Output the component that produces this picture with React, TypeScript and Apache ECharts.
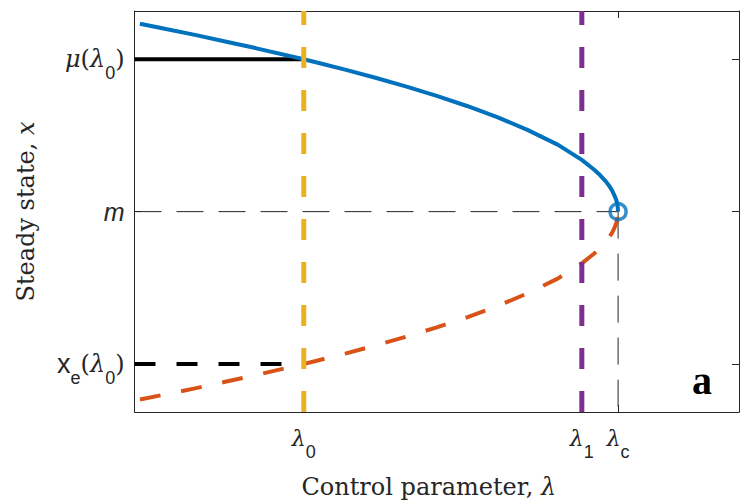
import React, { useEffect, useRef } from "react";
import * as echarts from "echarts";

// Parameter values (x axis)
const L0 = 2.8;
const L1 = 7.4;
const LC = 8.0;
const X_MIN = 0;
const X_MAX = 10;

// Steady-state levels (y axis)
const MU0 = 7;
const M = 4;
const XE0 = 1;
const Y_MIN = 0.055;
const Y_MAX = 7.95;

// Branches
const lambdaVals = [0.09, 0.5, 1, 1.5, 2, 2.8, 3, 3.5, 4, 4.5, 5, 5.5, 6, 6.5, 7, 7.4, 7.6, 7.7, 7.8, 7.85, 7.9, 7.95, 7.97, 7.99, 8.0];
const stableVals = [7.7, 7.6, 7.48, 7.35, 7.22, 7.0, 6.94, 6.79, 6.63, 6.46, 6.28, 6.08, 5.86, 5.61, 5.32, 5.02, 4.83, 4.72, 4.59, 4.51, 4.42, 4.29, 4.23, 4.13, 4.0];
const unstableVals = [0.3, 0.4, 0.52, 0.65, 0.78, 1.0, 1.06, 1.21, 1.37, 1.54, 1.72, 1.92, 2.14, 2.39, 2.68, 2.98, 3.17, 3.28, 3.41, 3.49, 3.58, 3.71, 3.77, 3.87, 4.0];

const xTickVals = [L0, L1, LC];
const xTickLabels = ["{l|λ}{s|0}", "{l|λ}{s|1}", "{l|λ}{s|c}"];
const yTickVals = [XE0, M, MU0];
const yTickLabels = ["{x|x}{s|e}{p|(}{l|λ}{s|0}{p|)}", "{m|m}", "{l|μ}{p|(}{l|λ}{s|0}{p|)}"];

const BLUE = "#0072BD";
const RED = "#D95319";
const YELLOW = "#EDB120";
const PURPLE = "#7E2F8E";
const AXIS = "#262626";

const SERIF = "'DejaVu Serif', 'Liberation Serif', serif";
const SANS = "'Liberation Sans', Arial, sans-serif";

const makeRich = (lh: number, main: number) => ({
  l: { fontFamily: SERIF, fontStyle: "italic", fontSize: main, color: AXIS, lineHeight: lh, verticalAlign: "middle" },
  p: { fontFamily: SERIF, fontSize: main, color: AXIS, lineHeight: lh, verticalAlign: "middle" },
  s: { fontFamily: SANS, fontSize: 18, color: AXIS, lineHeight: 18, verticalAlign: "bottom" },
  x: { fontFamily: SANS, fontSize: 27, color: AXIS, lineHeight: lh, verticalAlign: "middle" },
  m: { fontFamily: SANS, fontStyle: "italic", fontSize: 25, color: AXIS, lineHeight: lh, verticalAlign: "middle" },
});

export default function App() {
  const ref = useRef<HTMLDivElement>(null);
  useEffect(() => {
    if (!ref.current) return;
    const chart = echarts.init(ref.current, null, { renderer: "svg" });
    const pairs = (xs: number[], ys: number[]) => xs.map((x, i) => [x, ys[i]]);
    const lineBase = { type: "line", showSymbol: false, symbol: "none", silent: true, animation: false };
    const titleRich = {
      t: { fontFamily: SERIF, fontSize: 24, color: AXIS },
      i: { fontFamily: SERIF, fontStyle: "italic", fontSize: 24, color: AXIS },
    };
    chart.setOption({
      animation: false,
      backgroundColor: "#ffffff",
      grid: { left: 134.5, right: 1, top: 11, bottom: 92, containLabel: false },
      xAxis: [
        {
          type: "value",
          min: X_MIN,
          max: X_MAX,
          position: "bottom",
          name: "{t|Control parameter, }{i|λ}",
          nameLocation: "middle",
          nameGap: 63,
          nameTextStyle: { rich: titleRich, padding: [0, 16, 0, 0] },
          axisLine: { show: true, onZero: false, lineStyle: { color: AXIS, width: 1 } },
          axisTick: { show: true, inside: true, length: 7, customValues: xTickVals, lineStyle: { color: AXIS } },
          axisLabel: {
            show: true,
            margin: 3,
            customValues: xTickVals,
            formatter: (v: number) => {
              const i = xTickVals.findIndex((t) => Math.abs(t - v) < 1e-6);
              return i >= 0 ? xTickLabels[i] : "";
            },
            rich: makeRich(46, 22),
          },
          splitLine: { show: false },
        },
        {
          type: "value",
          min: X_MIN,
          max: X_MAX,
          position: "top",
          axisLine: { show: true, onZero: false, lineStyle: { color: AXIS, width: 1 } },
          axisTick: { show: true, inside: true, length: 7, customValues: xTickVals, lineStyle: { color: AXIS } },
          axisLabel: { show: false },
          splitLine: { show: false },
        },
      ],
      yAxis: [
        {
          type: "value",
          min: Y_MIN,
          max: Y_MAX,
          position: "left",
          name: "{t|Steady state, }{i|x}",
          nameLocation: "middle",
          nameGap: 97,
          nameRotate: 90,
          nameTextStyle: { rich: titleRich },
          axisLine: { show: true, onZero: false, lineStyle: { color: AXIS, width: 1 } },
          axisTick: { show: true, inside: true, length: 7, customValues: yTickVals, lineStyle: { color: AXIS } },
          axisLabel: {
            show: true,
            margin: 10,
            customValues: yTickVals,
            formatter: (v: number) => {
              const i = yTickVals.findIndex((t) => Math.abs(t - v) < 1e-6);
              return i >= 0 ? yTickLabels[i] : "";
            },
            rich: makeRich(46, 24),
          },
          splitLine: { show: false },
        },
        {
          type: "value",
          min: Y_MIN,
          max: Y_MAX,
          position: "right",
          axisLine: { show: true, onZero: false, lineStyle: { color: AXIS, width: 1 } },
          axisTick: { show: true, inside: true, length: 7, customValues: yTickVals, lineStyle: { color: AXIS } },
          axisLabel: { show: false },
          splitLine: { show: false },
        },
      ],
      graphic: [
        {
          type: "text",
          left: 692,
          top: 360,
          style: { text: "a", font: "bold 40px 'Liberation Serif', serif", fill: "#000" },
          silent: true,
        },
      ],
      series: [
        {
          ...lineBase,
          name: "m-h",
          data: [[X_MIN, M], [LC, M]],
          lineStyle: { color: AXIS, width: 1, type: [27, 15] },
          z: 1,
        },
        {
          ...lineBase,
          name: "m-v",
          data: [[LC, M], [LC, Y_MIN]],
          lineStyle: { color: AXIS, width: 1, type: [27, 15] },
          z: 1,
        },
        {
          ...lineBase,
          name: "mu0",
          data: [[X_MIN, MU0], [L0, MU0]],
          lineStyle: { color: "#000", width: 4, type: "solid" },
          z: 2,
        },
        {
          ...lineBase,
          name: "xe0",
          data: [[X_MIN, XE0], [L0, XE0]],
          lineStyle: { color: "#000", width: 4, type: [21, 21] },
          z: 2,
        },
        {
          ...lineBase,
          name: "unstable",
          data: pairs(lambdaVals, unstableVals),
          lineStyle: { color: RED, width: 4, type: [21, 21] },
          z: 3,
        },
        {
          ...lineBase,
          name: "stable",
          data: pairs(lambdaVals, stableVals),
          lineStyle: { color: BLUE, width: 4, type: "solid" },
          z: 4,
        },
        {
          type: "scatter",
          name: "fold",
          data: [[LC, M]],
          symbol: "circle",
          symbolSize: 16,
          itemStyle: { color: "rgba(255,255,255,0)", borderColor: BLUE, borderWidth: 3.5 },
          silent: true,
          z: 5,
        },
        {
          ...lineBase,
          name: "lambda0",
          data: [[L0, Y_MIN], [L0, Y_MAX]],
          lineStyle: { color: YELLOW, width: 5, type: [21, 22] },
          z: 6,
        },
        {
          ...lineBase,
          name: "lambda1",
          data: [[L1, Y_MIN], [L1, Y_MAX]],
          lineStyle: { color: PURPLE, width: 5, type: [21, 22] },
          z: 6,
        },
      ],
    });
    return () => chart.dispose();
  }, []);
  return <div ref={ref} style={{ width: 740, height: 504, position: "absolute", left: 0, top: 0 }} />;
}
